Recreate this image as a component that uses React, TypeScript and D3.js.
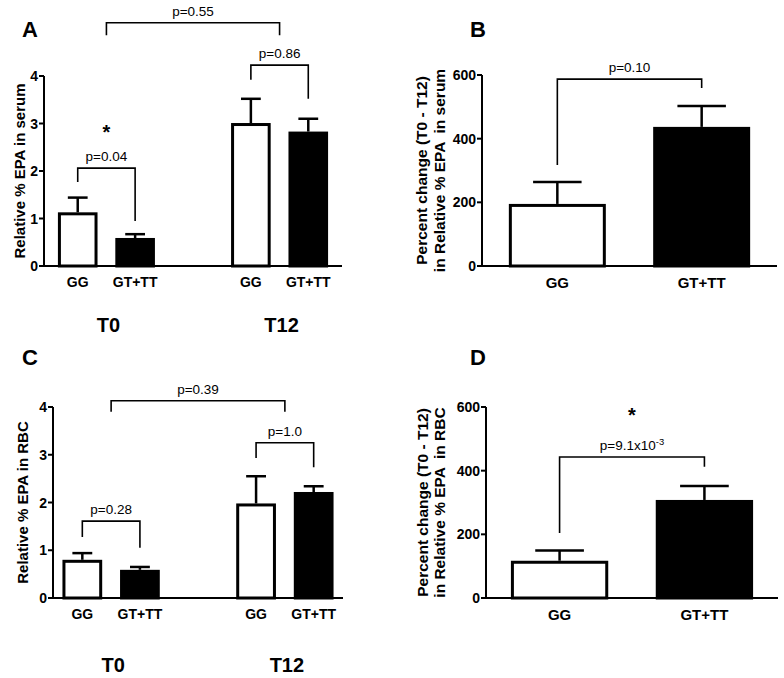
import React from "react";
import * as d3 from "d3";

// ---------- data ----------
const genotypes = ["GG", "GT+TT"];
const timepoints = ["T0", "T12"];

// Panel A: relative % EPA in serum, [timepoint][genotype]
const serumMean = [
  [1.13, 0.59],
  [3.01, 2.83],
];
const serumSem = [
  [0.31, 0.08],
  [0.51, 0.27],
];
const relTicks = [0, 1, 2, 3, 4];

// Panel B: percent change in serum, per genotype
const serumChangeMean = [195, 437];
const serumChangeSem = [69, 66];

// Panel C: relative % EPA in RBC
const rbcMean = [
  [0.8, 0.59],
  [1.98, 2.22],
];
const rbcSem = [
  [0.14, 0.06],
  [0.57, 0.12],
];

// Panel D: percent change in RBC
const rbcChangeMean = [117, 308];
const rbcChangeSem = [32, 44];
const changeTicks = [0, 200, 400, 600];

// Annotation brackets (values in data units)
const serumBrackets = [
  { kind: "group", a: 0, b: 1, y: 5.12, ya: 4.86, yb: 4.86, label: "p=0.55" },
  { kind: "pair", g: 1, y: 4.23, ya: 3.92, yb: 3.52, label: "p=0.86" },
  { kind: "pair", g: 0, y: 2.06, ya: 1.77, yb: 0.95, label: "p=0.04" },
];
const serumStars = [{ g: 0, y: 2.86 }];
const rbcBrackets = [
  { kind: "group", a: 0, b: 1, y: 4.13, ya: 3.9, yb: 3.9, label: "p=0.39" },
  { kind: "pair", g: 1, y: 3.25, ya: 2.93, yb: 2.74, label: "p=1.0" },
  { kind: "pair", g: 0, y: 1.61, ya: 1.28, yb: 1.05, label: "p=0.28" },
];
const serumChangeBracket = { y: 587, ya: 317, yb: 559, label: "p=0.10" };
const rbcChangeBracket = { y: 443, ya: 204, yb: 412, label: "p=9.1x10", sup: "-3" };
const rbcChangeStar = 581;

const FONT = "Liberation Sans, Arial, Helvetica, sans-serif";

type Bar = { cx: number; w: number; mean: number; sem: number; fill: string };

function Axis({ x0, x1, y, ticks, fontSize }: any) {
  const yb = y.range()[0];
  const yt = y.range()[1];
  return (
    <g>
      <line x1={x0} x2={x0} y1={yb} y2={yt} stroke="#000" strokeWidth={2} />
      <line x1={x0 - 1} x2={x1} y1={yb} y2={yb} stroke="#000" strokeWidth={2} />
      {ticks.map((t: number) => (
        <g key={t}>
          <line x1={x0 - 5} x2={x0} y1={y(t)} y2={y(t)} stroke="#000" strokeWidth={2} />
          <text
            x={x0 - 6}
            y={y(t)}
            dy="0.36em"
            textAnchor="end"
            fontSize={fontSize}
            fontWeight="bold"
            fontFamily={FONT}
          >
            {t}
          </text>
        </g>
      ))}
    </g>
  );
}

function Bars({ bars, y }: { bars: Bar[]; y: any }) {
  return (
    <g>
      {bars.map((b, i) => (
        <g key={i}>
          <line
            x1={b.cx}
            x2={b.cx}
            y1={y(b.mean)}
            y2={y(b.mean + b.sem)}
            stroke="#000"
            strokeWidth={2.5}
          />
          <line
            x1={b.cx - b.w / 4}
            x2={b.cx + b.w / 4}
            y1={y(b.mean + b.sem)}
            y2={y(b.mean + b.sem)}
            stroke="#000"
            strokeWidth={2.5}
          />
          <rect
            x={b.cx - b.w / 2 + 1.5}
            y={y(b.mean) + 1.5}
            width={b.w - 3}
            height={y(0) - y(b.mean) - 1.5}
            fill={b.fill}
            stroke="#000"
            strokeWidth={3}
          />
        </g>
      ))}
    </g>
  );
}

function Bracket({ xa, xb, y, ya, yb, label, sup, fontSize }: any) {
  return (
    <g>
      <path
        d={`M${xa},${ya}V${y}H${xb}V${yb}`}
        fill="none"
        stroke="#000"
        strokeWidth={1.6}
      />
      <text
        x={(xa + xb) / 2}
        y={y - 7}
        textAnchor="middle"
        fontSize={fontSize}
        fontFamily={FONT}
      >
        {label}
        {sup ? (
          <tspan fontSize={fontSize * 0.7} dy={-5}>
            {sup}
          </tspan>
        ) : null}
      </text>
    </g>
  );
}

function GroupedPanel({ letter, ox, oy, axisX, axisEnd, yTop, yBottom, means, sems, brackets, stars, yLabel, groupPadOuter, labelOffset, groupLabelDy }: any) {
  const y = d3.scaleLinear().domain([0, 4]).range([yBottom, yTop]);
  const outer = d3
    .scaleBand()
    .domain(timepoints)
    .range([axisX, axisEnd])
    .paddingInner(0.337)
    .paddingOuter(groupPadOuter);
  const inner = d3
    .scaleBand()
    .domain(genotypes)
    .range([0, outer.bandwidth()])
    .paddingInner(0.31)
    .paddingOuter(0.155);
  const bars: Bar[] = [];
  timepoints.forEach((t, ti) =>
    genotypes.forEach((g, gi) => {
      bars.push({
        cx: (outer(t) as number) + (inner(g) as number) + inner.bandwidth() / 2,
        w: inner.bandwidth(),
        mean: means[ti][gi],
        sem: sems[ti][gi],
        fill: gi === 0 ? "#fff" : "#000",
      });
    })
  );
  const gc = (ti: number) => (outer(timepoints[ti]) as number) + outer.bandwidth() / 2;
  const bc = (ti: number, gi: number) => bars[ti * 2 + gi].cx;
  return (
    <g transform={`translate(${ox},${oy})`}>
      <text x={22} y={37} fontSize={22} fontWeight="bold" fontFamily={FONT}>
        {letter}
      </text>
      <Axis x0={axisX} x1={axisEnd} y={y} ticks={relTicks} fontSize={14} />
      <Bars bars={bars} y={y} />
      {brackets.map((b: any, i: number) => {
        const xa = b.kind === "group" ? gc(b.a) : bc(b.g, 0);
        const xb = b.kind === "group" ? gc(b.b) : bc(b.g, 1);
        return (
          <Bracket key={i} xa={xa} xb={xb} y={y(b.y)} ya={y(b.ya)} yb={y(b.yb)} label={b.label} fontSize={13.5} />
        );
      })}
      {stars.map((s: any, i: number) => (
        <text
          key={i}
          x={(bc(s.g, 0) + bc(s.g, 1)) / 2}
          y={y(s.y) + 9}
          textAnchor="middle"
          fontSize={20}
          fontWeight="bold"
          fontFamily={FONT}
        >
          *
        </text>
      ))}
      {bars.map((b, i) => (
        <text
          key={i}
          x={b.cx}
          y={yBottom + 21}
          textAnchor="middle"
          fontSize={14}
          fontWeight="bold"
          fontFamily={FONT}
        >
          {genotypes[i % 2]}
        </text>
      ))}
      {timepoints.map((t, ti) => (
        <text
          key={t}
          x={gc(ti) + 2}
          y={yBottom + groupLabelDy}
          textAnchor="middle"
          fontSize={20}
          fontWeight="bold"
          fontFamily={FONT}
        >
          {t}
        </text>
      ))}
      <text
        transform={`translate(${axisX - labelOffset},${(yTop + yBottom) / 2}) rotate(-90)`}
        textAnchor="middle"
        fontSize={15}
        fontWeight="bold"
        fontFamily={FONT}
      >
        {yLabel}
      </text>
    </g>
  );
}

function ChangePanel({ letter, ox, oy, axisX, axisEnd, yTop, yBottom, means, sems, bracket, star, yLabel1, yLabel2, padOuter, l1, l2 }: any) {
  const y = d3.scaleLinear().domain([0, 600]).range([yBottom, yTop]);
  const x = d3
    .scaleBand()
    .domain(genotypes)
    .range([axisX, axisEnd])
    .paddingInner(0.328)
    .paddingOuter(padOuter);
  const bars: Bar[] = genotypes.map((g, gi) => ({
    cx: (x(g) as number) + x.bandwidth() / 2,
    w: x.bandwidth(),
    mean: means[gi],
    sem: sems[gi],
    fill: gi === 0 ? "#fff" : "#000",
  }));
  return (
    <g transform={`translate(${ox},${oy})`}>
      <text x={70} y={37} fontSize={22} fontWeight="bold" fontFamily={FONT}>
        {letter}
      </text>
      <Axis x0={axisX} x1={axisEnd} y={y} ticks={changeTicks} fontSize={14} />
      <Bars bars={bars} y={y} />
      <Bracket
        xa={bars[0].cx}
        xb={bars[1].cx}
        y={y(bracket.y)}
        ya={y(bracket.ya)}
        yb={y(bracket.yb)}
        label={bracket.label}
        sup={bracket.sup}
        fontSize={13.5}
      />
      {star != null ? (
        <text
          x={(bars[0].cx + bars[1].cx) / 2}
          y={y(star) + 9}
          textAnchor="middle"
          fontSize={20}
          fontWeight="bold"
          fontFamily={FONT}
        >
          *
        </text>
      ) : null}
      {bars.map((b, i) => (
        <text
          key={i}
          x={b.cx}
          y={yBottom + 22}
          textAnchor="middle"
          fontSize={15}
          fontWeight="bold"
          fontFamily={FONT}
        >
          {genotypes[i]}
        </text>
      ))}
      <text
        transform={`translate(${axisX - l1},${(yTop + yBottom) / 2}) rotate(-90)`}
        textAnchor="middle"
        fontSize={15.5}
        fontWeight="bold"
        fontFamily={FONT}
      >
        {yLabel1}
      </text>
      <text
        transform={`translate(${axisX - l2},${(yTop + yBottom) / 2}) rotate(-90)`}
        textAnchor="middle"
        fontSize={15.5}
        fontWeight="bold"
        fontFamily={FONT}
        style={{ whiteSpace: "pre" }}
      >
        {yLabel2}
      </text>
    </g>
  );
}

export default function App() {
  return (
    <svg
      width={784}
      height={678}
      style={{ position: "absolute", left: 0, top: 0, background: "#fff" }}
    >
      <rect width={784} height={678} fill="#fff" />
      <GroupedPanel
        letter="A"
        ox={0}
        oy={0}
        axisX={44}
        axisEnd={342}
        yTop={76}
        yBottom={266}
        means={serumMean}
        sems={serumSem}
        brackets={serumBrackets}
        stars={serumStars}
        yLabel="Relative % EPA in serum"
        groupPadOuter={0.029}
        labelOffset={19}
        groupLabelDy={66}
      />
      <ChangePanel
        letter="B"
        ox={400}
        oy={0}
        axisX={82}
        axisEnd={377}
        yTop={75}
        yBottom={266}
        means={serumChangeMean}
        sems={serumChangeSem}
        bracket={serumChangeBracket}
        star={null}
        yLabel1="Percent change (T0 - T12)"
        yLabel2="in Relative % EPA  in serum"
        padOuter={0.186}
        l1={55}
        l2={37}
      />
      <GroupedPanel
        letter="C"
        ox={0}
        oy={328}
        axisX={53}
        axisEnd={343}
        yTop={79}
        yBottom={270}
        means={rbcMean}
        sems={rbcSem}
        brackets={rbcBrackets}
        stars={[]}
        yLabel="Relative % EPA in RBC"
        groupPadOuter={0.003}
        labelOffset={25}
        groupLabelDy={74}
      />
      <ChangePanel
        letter="D"
        ox={400}
        oy={328}
        axisX={86}
        axisEnd={378}
        yTop={79}
        yBottom={270}
        means={rbcChangeMean}
        sems={rbcChangeSem}
        bracket={rbcChangeBracket}
        star={rbcChangeStar}
        yLabel1="Percent change (T0 - T12)"
        yLabel2="in Relative % EPA  in RBC"
        padOuter={0.172}
        l1={58}
        l2={41}
      />
    </svg>
  );
}
